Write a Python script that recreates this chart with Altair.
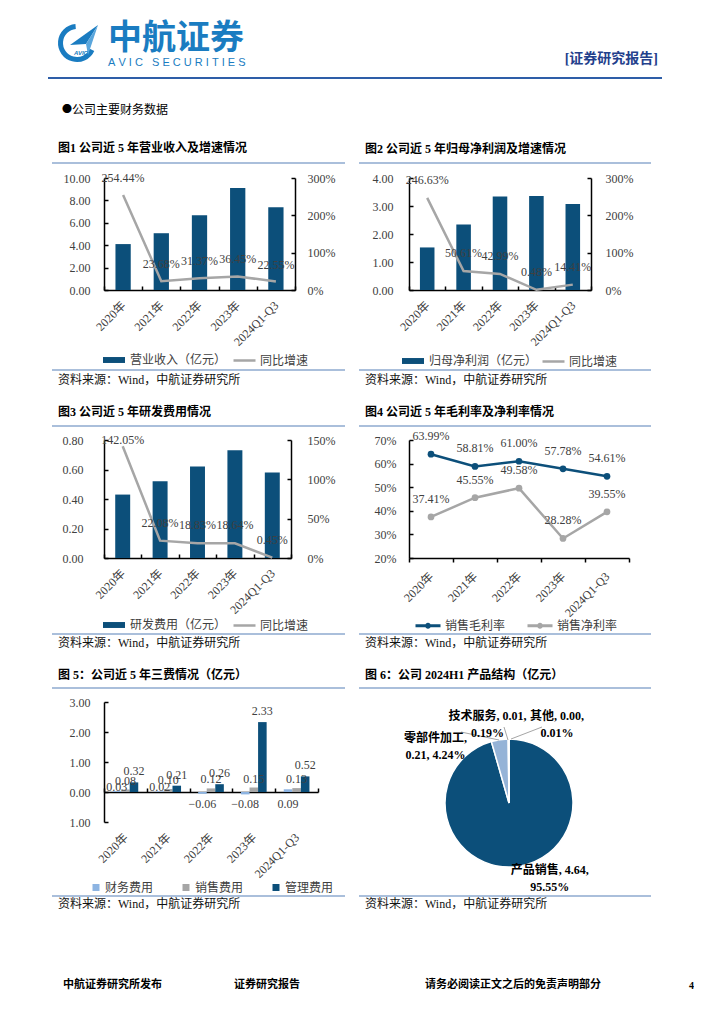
import altair as alt
import pandas as pd

# ---------------- data ----------------
years = ["2020年", "2021年", "2022年", "2023年", "2024Q1-Q3"]

revenue = [4.10, 5.07, 6.68, 9.10, 7.38]
revenue_growth = [254.44, 23.68, 31.37, 36.45, 22.55]

net_profit = [1.52, 2.34, 3.34, 3.36, 3.07]
net_profit_growth = [246.63, 50.61, 42.99, 0.48, 14.41]

rd_expense = [0.43, 0.52, 0.62, 0.73, 0.58]
rd_growth = [142.05, 22.08, 18.83, 18.64, 0.45]

margin_names = ["销售毛利率", "销售净利率"]
gross_margin = [63.99, 58.81, 61.00, 57.78, 54.61]
net_margin = [37.41, 45.55, 49.58, 28.28, 39.55]

fee_names = ["财务费用", "销售费用", "管理费用"]
finance_fee = [0.03, 0.02, -0.06, -0.08, 0.09]
selling_fee = [0.08, 0.10, 0.12, 0.15, 0.13]
admin_fee = [0.32, 0.21, 0.26, 2.33, 0.52]

pie_names = ["产品销售", "零部件加工", "技术服务", "其他"]
pie_values = [4.64, 0.21, 0.01, 0.00]
pie_shares = [95.55, 4.24, 0.19, 0.01]
pie_labels = ["产品销售, 4.64,\n95.55%", "零部件加工,\n0.21, 4.24%",
              "技术服务, 0.01,\n0.19%", "其他, 0.00,\n0.01%"]

# ---------------- styles ----------------
SERIF = "Liberation Serif, Noto Sans CJK SC"
SANS = "Noto Sans CJK SC"
NAVY = "#0c4f7a"
GREY = "#a6a6a6"
LIGHT = "#8db4e2"
FRAME = "#8eaacf"
INK = "#404040"
IN_TICK = {"expr": "-4"}
ONE = alt.Data(values=[{"k": 1}])
LEG = dict(labelFont=SERIF, labelFontSize=12, labelColor=INK, direction="horizontal", padding=0, title=None, orient="none")


def spacer(w, h):
    return alt.Chart(ONE).mark_text(text="", baseline="top", align="left", fontSize=1).encode(
        x=alt.value(w / 2), y=alt.value(h / 2)).properties(width=w, height=h)


def txt(s, x, y, size=12, bold=False, color="#000000", font=SERIF, align="left", italic=False):
    return alt.Chart(ONE).mark_text(
        text=s, align=align, baseline="middle", fontSize=size,
        fontWeight="bold" if bold else "normal", fontStyle="italic" if italic else "normal",
        color=color, font=font
    ).encode(x=alt.value(x), y=alt.value(y))


def hline(x1, x2, y, color=FRAME, width=1.5):
    return alt.Chart(ONE).mark_rule(color=color, strokeWidth=width).encode(
        x=alt.value(x1), x2=alt.value(x2), y=alt.value(y))


def frame(title, tx, ty, lx1, lx2, ytop, ybot, sy):
    return [txt(title, tx, ty, bold=True),
            hline(lx1, lx2, ytop), hline(lx1, lx2, ybot),
            txt("资料来源：Wind，中航证券研究所", tx, sy, color="#111111")]


def band_x_axis(pad=17, inward=True, offset=None):
    kw = dict(title=None, labelAngle=-45, labelAlign="right", labelBaseline="middle",
              tickBand="extent", labelPadding=pad, tickSize=IN_TICK if inward else 4,
              labelOverlap=False)
    if offset is not None:
        kw["offset"] = offset
    return alt.Axis(**kw)


def y_axis(vals, pad, orient="left", fmt=None, expr=None):
    kw = dict(title=None, values=vals, orient=orient, tickSize=IN_TICK, labelPadding=pad,
              labelOverlap=False)
    if fmt:
        kw["format"] = fmt
    if expr:
        kw["labelExpr"] = expr
    return alt.Axis(**kw)


def combo(vals, growth, bar_name, left_vals, right_vals, w, h, lab_px, lpad, rpad,
          leg_bar_x, leg_line_x, leg_y, deco):
    ymax = left_vals[-1]
    rmax = right_vals[-1]
    df = pd.DataFrame({"year": years, "v": vals, "g": growth,
                       "bs": [bar_name] * 5, "ls": ["同比增速"] * 5})
    xs = alt.Scale(type="band", paddingInner=0, paddingOuter=0)
    bars = alt.Chart(df).mark_bar(width=alt.RelativeBandSize(0.4)).encode(
        x=alt.X("year:N", sort=years, scale=xs, axis=band_x_axis()),
        y=alt.Y("v:Q", scale=alt.Scale(domain=[0, ymax]), axis=y_axis(left_vals, lpad, fmt=".2f")),
        fill=alt.Fill("bs:N", scale=alt.Scale(range=[NAVY]),
                      legend=alt.Legend(legendX=leg_bar_x, legendY=leg_y,
                                        symbolType="M-1,-0.27H1V0.27H-1Z", symbolSize=484,
                                        labelOffset=4, **LEG)),
    )
    line = alt.Chart(df).mark_line(strokeWidth=2.5).encode(
        x=alt.X("year:N", sort=years, scale=xs),
        y=alt.Y("g:Q", scale=alt.Scale(domain=[0, rmax]),
                axis=y_axis(right_vals, rpad, orient="right", expr="datum.value + '%'")),
        stroke=alt.Stroke("ls:N", scale=alt.Scale(range=[GREY]),
                          legend=alt.Legend(legendX=leg_line_x, legendY=leg_y, symbolType="stroke",
                                            symbolSize=484, symbolStrokeWidth=2.5,
                                            labelOffset=3, **LEG)),
    )
    units = lab_px * rmax / h
    labels = alt.Chart(df).transform_calculate(
        ly=f"min(datum.g + {units}, {rmax})",
        lab="format(datum.g, '.2f') + '%'",
    ).mark_text(baseline="middle", font=SERIF, fontSize=12, color=INK).encode(
        x=alt.X("year:N", sort=years, scale=xs),
        y=alt.Y("ly:Q", scale=alt.Scale(domain=[0, rmax]), axis=None),
        text="lab:N",
    )
    return alt.layer(bars, line, labels, *deco).resolve_scale(y="independent").properties(width=w, height=h)


# ---------------- panels ----------------
# left column plots start at page x 104, right column plots at page x 410
p1 = combo(revenue, revenue_growth, "营业收入（亿元）", [0, 2, 4, 6, 8, 10], [0, 100, 200, 300],
           191, 112, 17, 18, 16, -2, 128, 170,
           frame("图1 公司近 5 年营业收入及增速情况", -46, -30, -52, 241, -15, 192, 202))

p2 = combo(net_profit, net_profit_growth, "归母净利润（亿元）", [0, 1, 2, 3, 4], [0, 100, 200, 300],
           182, 112, 18, 20, 18, -8, 132, 171,
           frame("图2 公司近 5 年归母净利润及增速情况", -44, -29, -50, 242, -15, 192, 202))

p3 = combo(rd_expense, rd_growth, "研发费用（亿元）", [0, 0.2, 0.4, 0.6, 0.8], [0, 50, 100, 150],
           187, 118, 18, 25, 20, -2, 128, 173,
           frame("图3 公司近 5 年研发费用情况", -46, -28, -52, 241, -14, 194, 203))

# chart 4: margins
df4 = pd.DataFrame({"year": years * 2,
                    "s": [margin_names[0]] * 5 + [margin_names[1]] * 5,
                    "v": gross_margin + net_margin})
xs4 = alt.Scale(type="band", paddingInner=0, paddingOuter=0)
ys4 = alt.Scale(domain=[20, 70])
X4 = alt.X("year:N", sort=years, scale=xs4, axis=band_x_axis(pad=12, inward=False))
Y4 = alt.Y("v:Q", scale=ys4, axis=y_axis([20, 30, 40, 50, 60, 70], 17, expr="datum.value + '%'"))
lines4 = alt.Chart(df4).mark_line(strokeWidth=2.5, point=alt.OverlayMarkDef(filled=True, size=45)).encode(
    x=X4, y=Y4,
    color=alt.Color("s:N", sort=margin_names, scale=alt.Scale(domain=margin_names, range=[NAVY, GREY]),
                    legend=alt.Legend(legendX=5, legendY=171.5,
                                      symbolType="M-1,0H1M0.12,0A0.12,0.12 0 1 1 -0.12,0A0.12,0.12 0 1 1 0.12,0",
                                      symbolSize=625, symbolStrokeWidth=3, labelOffset=3,
                                      columnPadding=15, **LEG)),
)
labels4 = alt.Chart(df4).transform_calculate(lab="format(datum.v, '.2f') + '%'").mark_text(
    dy=-18, baseline="middle", font=SERIF, fontSize=12, color=INK).encode(
    x=X4, y=Y4, text="lab:N",
)
p4 = alt.layer(lines4, labels4,
               *frame("图4 公司近 5 年毛利率及净利率情况", -44, -28, -50, 242, -14, 194, 203)
               ).properties(width=220, height=118)

# chart 5: three fees
rows5 = []
for i, yname in enumerate(years):
    for name, arr in zip(fee_names, [finance_fee, selling_fee, admin_fee]):
        rows5.append({"year": yname, "s": name, "v": arr[i]})
df5 = pd.DataFrame(rows5)
xs5 = alt.Scale(type="band", paddingInner=0, paddingOuter=0)
xo5 = alt.XOffset("s:N", sort=fee_names,
                  scale=alt.Scale(domain=fee_names, paddingInner=0, paddingOuter={"expr": "1.08"}))
ys5 = alt.Scale(domain=[-1, 3])
X5 = alt.X("year:N", sort=years, scale=xs5, axis=band_x_axis(pad=47, offset={"expr": "-30"}))
Y5 = alt.Y("v:Q", stack=None, scale=ys5,
           axis=y_axis([-1, 0, 1, 2, 3], 18, expr="format(abs(datum.value), '.2f')"))
bars5 = alt.Chart(df5).mark_bar().encode(
    x=X5, xOffset=xo5, y=Y5,
    fill=alt.Fill("s:N", sort=fee_names, scale=alt.Scale(domain=fee_names, range=[LIGHT, GREY, NAVY]),
                  legend=alt.Legend(legendX=-14, legendY=179.5, symbolType="square", symbolSize=49,
                                    labelOffset=3, columnPadding=26, **LEG)),
)


def fee_labels(cond, dy, ypos="v"):
    return alt.Chart(df5).transform_filter(cond).transform_calculate(
        lab="format(datum.v, '.2f')", ly=f"datum.{ypos}").mark_text(
        dy=dy, baseline="middle", font=SERIF, fontSize=12, color=INK).encode(
        x=X5, xOffset=xo5,
        y=alt.Y("ly:Q", stack=None, scale=ys5,
                axis=y_axis([-1, 0, 1, 2, 3], 18, expr="format(abs(datum.value), '.2f')")),
        text="lab:N",
    )


df5["zero"] = 0
p5 = alt.layer(
    bars5,
    fee_labels("datum.s == '财务费用' && datum.v >= 0 && datum.v < 0.05", -4),
    fee_labels("datum.s == '财务费用' && (datum.v < 0 || datum.v >= 0.05)", 12, "zero"),
    fee_labels("datum.s == '销售费用'", -9),
    fee_labels("datum.s == '管理费用'", -11),
    *frame("图 5：公司近 5 年三费情况（亿元）", -46, -27, -52, 241, -14, 194, 202),
).properties(width=214, height=120)

# chart 6: pie (view starts at page x 410; pie centre at page 510, 803)
df6 = pd.DataFrame({"name": pie_names, "share": pie_shares, "value": pie_values,
                    "label": pie_labels, "o": [0, 1, 2, 3]})
total = sum(pie_shares)
th = alt.Scale(domain=[0, total])
CX, CY = 100, 101
arc6 = alt.Chart(df6).mark_arc(outerRadius=64, stroke="white", strokeWidth=1.5).encode(
    theta=alt.Theta("share:Q", stack=True, scale=th),
    order=alt.Order("o:Q"),
    color=alt.Color("name:N", sort=pie_names,
                    scale=alt.Scale(domain=pie_names, range=[NAVY, "#95b3d7", GREY, "#d9d9d9"]),
                    legend=None),
    x=alt.value(CX), y=alt.value(CY),
)


def pie_label(name, radius, dx, dy):
    return alt.Chart(df6).transform_window(
        cum="sum(share)", sort=[alt.SortField("o")]
    ).transform_calculate(mid="datum.cum - datum.share / 2").transform_filter(
        f"datum.name == '{name}'"
    ).mark_text(radius=radius, dx=dx, dy=dy, align="center", baseline="middle", lineBreak="\n",
                lineHeight=17, fontSize=12, fontWeight="bold", font=SERIF, color="#000000").encode(
        theta=alt.Theta("mid:Q", stack=None, scale=th),
        text="label:N",
        x=alt.value(CX), y=alt.value(CY),
    )


def leader(x1, y1, x2, y2):
    return alt.Chart(ONE).mark_rule(color=GREY, strokeWidth=1).encode(
        x=alt.value(x1), y=alt.value(y1), x2=alt.value(x2), y2=alt.value(y2))


p6 = alt.layer(
    arc6,
    leader(52, 30, 90, 38), leader(95, 25, 99, 38), leader(133, 25, 102, 37),
    pie_label("产品销售", 70, 31, -2),
    pie_label("零部件加工", 66, -64, 0),
    pie_label("技术服务", 87.5, -21, 0),
    pie_label("其他", 87.5, 48, 0),
    *frame("图 6：公司 2024H1 产品结构（亿元）", -44, -27, -50, 242, -14, 194, 202),
).properties(width=200, height=120)

# header (origin at page 8, 8)
LOGO = "#1a7cc1"
ring = alt.Chart(ONE).mark_arc(innerRadius=14, outerRadius=19, color=LOGO).encode(
    theta=alt.value(2.0), theta2=alt.value(6.2), x=alt.value(69), y=alt.value(35))
plane = alt.Chart(ONE).mark_point(
    shape="M0.7,-0.8L-0.7,0.2L0.1,0.15Z", filled=True, size=1600, color=LOGO, opacity=1, strokeWidth=0
).encode(x=alt.value(76), y=alt.value(33))
plane2 = alt.Chart(ONE).mark_point(
    shape="M0.7,-0.8L0.1,0.15L0.2,0.7Z", filled=True, size=1600, color="#5aa6dc", opacity=1, strokeWidth=0
).encode(x=alt.value(76), y=alt.value(33))
NB = "\u00a0"
header = alt.layer(
    ring, plane, plane2,
    txt("AVIC", 73, 45, size=6, bold=True, italic=True, color=LOGO, font="Liberation Sans", align="center"),
    txt("中航证券", 100, 31, size=34, bold=True, color=LOGO, font=SANS),
    txt(NB.join("AVIC") + NB * 3 + NB.join("SECURITIES"), 100, 55, size=11, color=LOGO, font="Liberation Sans"),
    txt("[证券研究报告]", 650, 51, size=14, bold=True, color="#23408c", align="right"),
    hline(40, 654, 70, color="#2e5ea8", width=2),
    txt("●", 54, 102, size=10, font=SANS),
    txt("公司主要财务数据", 64, 102, size=12, font=SANS),
).properties(width=96, height=170)

# footer (origin at page 8, 822)
footer = alt.layer(
    txt("中航证券研究所发布", 55, 163, size=11, bold=True, font=SANS),
    txt("证券研究报告", 226, 163, size=11, bold=True, font=SANS),
    txt("请务必阅读正文之后的免责声明部分", 417, 163, size=11, bold=True, font=SANS),
    txt("4", 681, 164, size=10, bold=True),
).properties(width=96, height=178)

items = [
    header, spacer(1, 1), spacer(1, 1), spacer(1, 1),
    spacer(96, 112), p1, spacer(91, 112), p2,
    spacer(96, 150), spacer(1, 1), spacer(1, 1), spacer(1, 1),
    spacer(96, 118), p3, spacer(91, 118), p4,
    spacer(96, 144), spacer(1, 1), spacer(1, 1), spacer(1, 1),
    spacer(96, 120), p5, spacer(91, 120), p6,
    footer, spacer(1, 1), spacer(1, 1), spacer(1, 1),
]

chart = alt.concat(*items, columns=4, spacing=0, bounds="flush", align="each").resolve_scale(
    color="independent", fill="independent", stroke="independent"
).properties(
    padding=0
).configure_view(strokeWidth=0).configure_axis(
    labelFont=SERIF, labelFontSize=12, labelColor=INK, domainColor="#000000", domainWidth=1.5,
    tickColor="#000000", tickWidth=1.5, grid=False,
)

chart.save("out.html", embed_options={"renderer": "svg", "actions": False})
